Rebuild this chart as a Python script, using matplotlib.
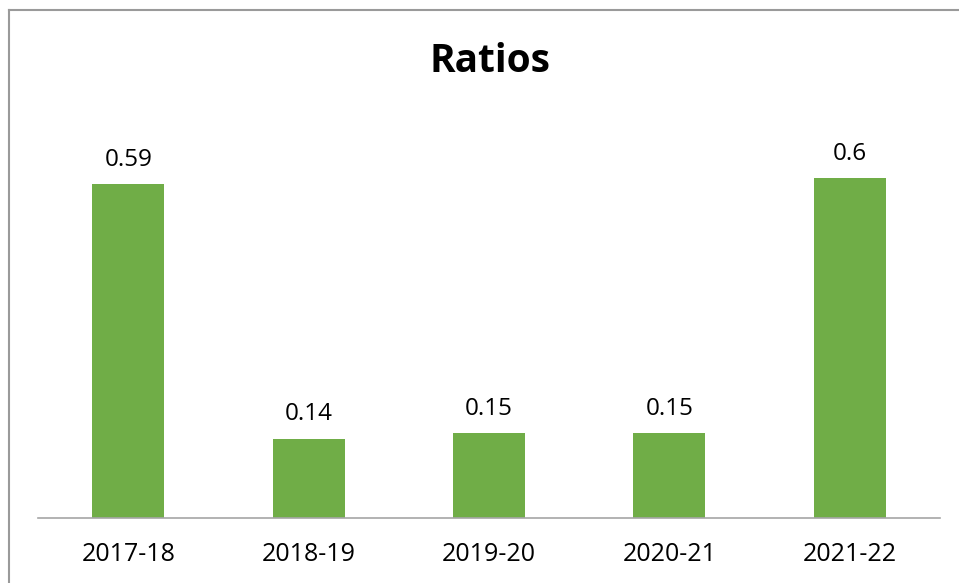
import matplotlib
matplotlib.use("Agg")
import matplotlib.pyplot as plt
from matplotlib.lines import Line2D

categories = ["2017-18", "2018-19", "2019-20", "2020-21", "2021-22"]
values = [0.59, 0.14, 0.15, 0.15, 0.6]
labels = ["0.59", "0.14", "0.15", "0.15", "0.6"]

plt.rcParams['font.family'] = ['Open Sans', 'DejaVu Sans']

W, H = 959, 583
fig = plt.figure(figsize=(W / 100, H / 100), dpi=100)
fig.patch.set_facecolor("white")

# axes in pixel placement
left, right, bottom, top = 38, 940, 518, 100
ax = fig.add_axes([left / W, (H - bottom) / H, (right - left) / W, (bottom - top) / H])

x = range(len(categories))
ax.bar(x, values, width=0.4, color="#70AD47")
ax.set_xlim(-0.5, len(categories) - 0.5)
ax.set_ylim(0, (bottom - top) / 566.0)

for xi, v, lab in zip(x, values, labels):
    ax.annotate(lab, (xi, v), xytext=(0, 9), textcoords="offset points",
                ha="center", va="bottom", fontsize=17.5, color="#000000")

ax.set_xticks(list(x))
ax.set_xticklabels(categories, fontsize=18)
ax.tick_params(axis="x", length=0, pad=17)
ax.set_yticks([])
for s in ["left", "right", "top"]:
    ax.spines[s].set_visible(False)
ax.spines["bottom"].set_color("#A6A6A6")
ax.spines["bottom"].set_linewidth(1.2)

fig.text(490 / W, 1 - 62 / H, "Ratios", ha="center", va="center",
         fontsize=28, fontweight="bold", color="#000000")

# outer border (only left and top visible)
fig.add_artist(Line2D([8.5 / W, 8.5 / W], [0, 1 - 9.5 / H], transform=fig.transFigure,
                      color="#9A9A9A", linewidth=1.5))
fig.add_artist(Line2D([8.5 / W, 1], [1 - 9.5 / H, 1 - 9.5 / H], transform=fig.transFigure,
                      color="#9A9A9A", linewidth=1.5))

fig.savefig("out.png", dpi=100, facecolor="white")
